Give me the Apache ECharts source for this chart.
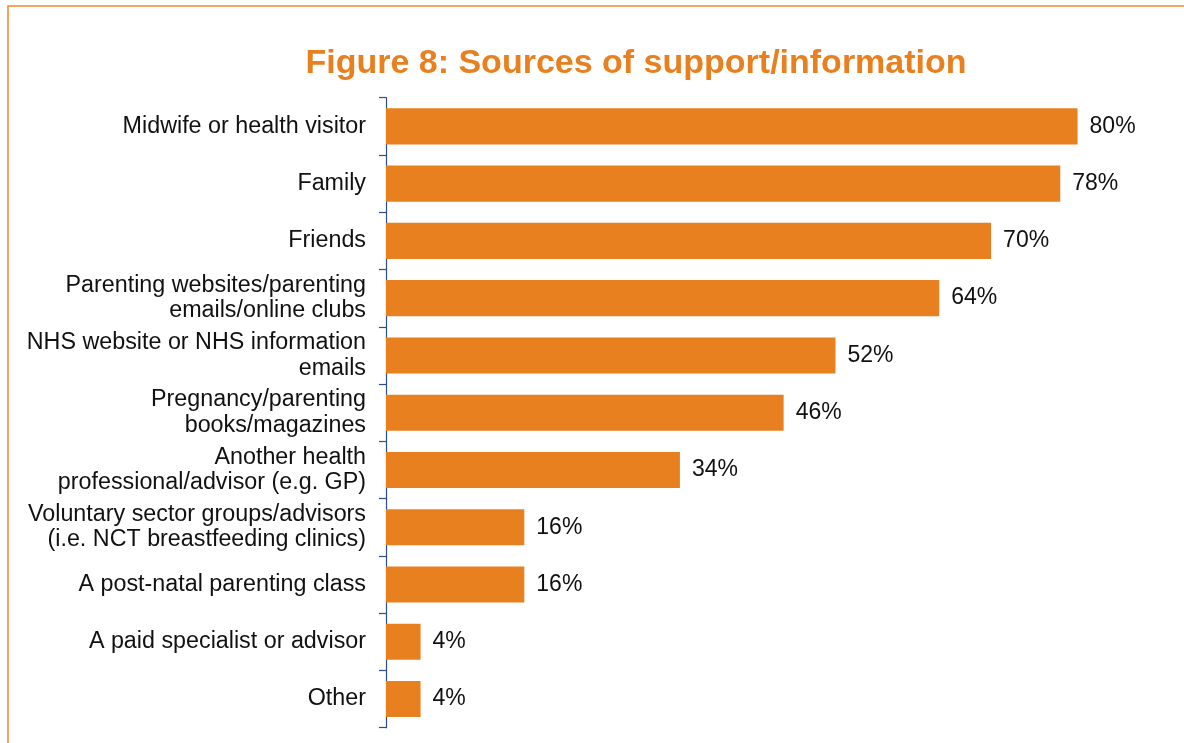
<!DOCTYPE html>
<html>
<head>
<meta charset="utf-8">
<script src="https://cdn.jsdelivr.net/npm/echarts@6/dist/echarts.min.js"></script>
<style>html,body{margin:0;padding:0;background:#fff;}#c{width:1184px;height:743px;}</style>
</head>
<body>
<div id="c"></div>
<script>
var titleText = 'Figure 8: Sources of support/information';
var categories = [
  'Midwife or health visitor',
  'Family',
  'Friends',
  'Parenting websites/parenting\nemails/online clubs',
  'NHS website or NHS information\nemails',
  'Pregnancy/parenting\nbooks/magazines',
  'Another health\nprofessional/advisor (e.g. GP)',
  'Voluntary sector groups/advisors\n(i.e. NCT breastfeeding clinics)',
  'A post-natal parenting class',
  'A paid specialist or advisor',
  'Other'
];
var values = [80, 78, 70, 64, 52, 46, 34, 16, 16, 4, 4];

var chart = echarts.init(document.getElementById('c'));
var orange = '#E8801F';
chart.setOption({
  animation: false,
  graphic: [
    { type: 'rect', shape: { x: 8, y: 6, width: 1400, height: 1000 }, style: { fill: 'none', stroke: '#EE8A2E', lineWidth: 1.5 }, silent: true },
    { type: 'text', x: 636, y: 64, style: { text: titleText, fill: '#E8801F', font: 'bold 34px "Liberation Sans", Arial, sans-serif', align: 'center', verticalAlign: 'middle' } }
  ],
  grid: { left: 386, right: 20, top: 97.7, bottom: 15.3, containLabel: false },
  xAxis: {
    type: 'value', min: 0, max: 90,
    show: false, splitLine: { show: false }
  },
  yAxis: {
    type: 'category', data: categories, inverse: true,
    axisLine: { show: true, lineStyle: { color: '#2E4D8F', width: 1.2 } },
    axisTick: { show: true, length: 7, lineStyle: { color: '#2E4D8F', width: 1.2 } },
    axisLabel: { margin: 20, color: '#111', fontSize: 23.3, lineHeight: 25.5, fontFamily: '"Liberation Sans", Arial, sans-serif', align: 'right' }
  },
  series: [{
    type: 'bar', data: values, barCategoryGap: '37%',
    itemStyle: { color: orange },
    label: { show: true, position: 'right', distance: 12, formatter: '{c}%', color: '#111', fontSize: 23, fontFamily: '"Liberation Sans", Arial, sans-serif' }
  }]
});
</script>
</body>
</html>
